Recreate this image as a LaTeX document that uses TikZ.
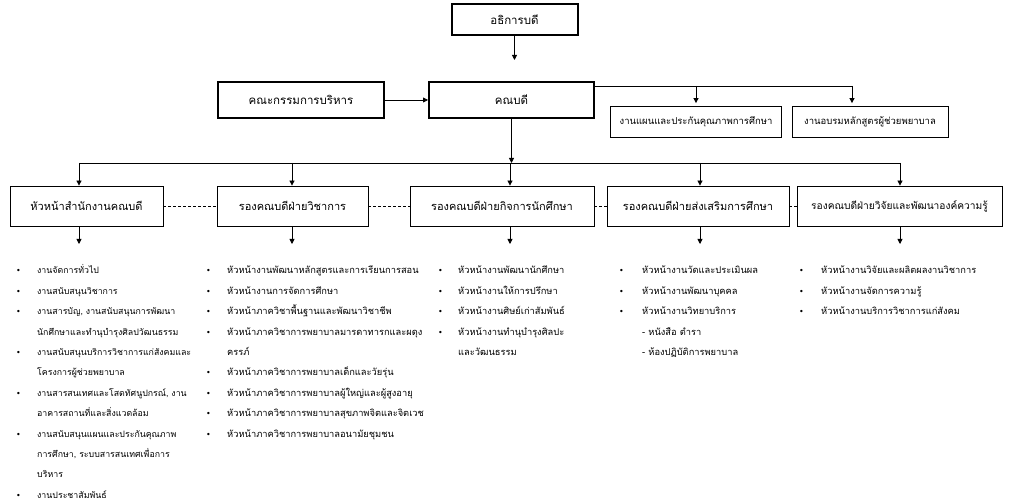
\documentclass[tikz,border=0pt]{standalone}
\usepackage{fontspec}
\setmainfont{Loma}[Script=Thai]
\newfontfamily\dotfont{DejaVu Sans}
\usetikzlibrary{arrows.meta}
\newcommand{\bl}{{\dotfont\footnotesize •}}
\newcommand{\listfont}{\fontsize{9.3}{20.4}\selectfont}

\begin{document}
\begin{tikzpicture}[x=1pt,y=-1pt,
	topbox/.style={draw,line width=2pt,font=\fontsize{11.5}{13}\selectfont},
	subbox/.style={draw,line width=0.8pt,minimum height=31pt,font=\fontsize{9.5}{11}\selectfont},
	rowbox/.style={draw,line width=0.8pt,minimum height=40pt,font=\fontsize{11}{13}\selectfont},
	arr/.style={-{Triangle[length=5pt,width=5pt]},line width=0.8pt},
	link/.style={densely dashed,line width=0.5pt},
	items/.style={inner sep=0pt,anchor=base west,font=\listfont}]
	\useasboundingbox (0,0) rectangle (1023,502);
	\node[topbox,minimum width=126pt,minimum height=31pt] (rector) at (514.5,19.5) {อธิการบดี};
	\node[topbox,minimum width=165pt,minimum height=36pt] (dean) at (511.5,100) {คณบดี};
	\node[topbox,minimum width=166pt,minimum height=36pt] (board) at (301,100) {คณะกรรมการบริหาร};
	\node[subbox,minimum width=171pt] (plan) at (696,122) {งานแผนและประกันคุณภาพการศึกษา};
	\node[subbox,minimum width=156pt] (train) at (870,122) {งานอบรมหลักสูตรผู้ช่วยพยาบาล};
	\node[rowbox,minimum width=153pt] (office) at (86.5,206) {หัวหน้าสำนักงานคณบดี};
	\node[rowbox,minimum width=151pt] (acad) at (292.5,206) {รองคณบดีฝ่ายวิชาการ};
	\node[rowbox,minimum width=184pt] (stud) at (502,206) {รองคณบดีฝ่ายกิจการนักศึกษา};
	\node[rowbox,minimum width=182pt] (promo) at (698,206) {รองคณบดีฝ่ายส่งเสริมการศึกษา};
	\node[rowbox,minimum width=205pt,font=\fontsize{10.2}{13}\selectfont] (res) at (899.5,206) {รองคณบดีฝ่ายวิจัยและพัฒนาองค์ความรู้};
	\coordinate (rtip) at (514.5,60);
	\coordinate (rbus) at (852,86);
	\coordinate (busL) at (79,163);
	\coordinate (busR) at (900,163);
	\coordinate (low) at (0,244);
	\draw[arr] (rector) -- (rtip);
	\draw[arr] (board) -- (dean);
	\draw (dean.east |- rbus) -- (rbus);
	\draw[arr,shorten >=3pt] (plan.north |- rbus) -- (plan);
	\draw[arr,shorten >=3pt] (rbus) -- (rbus |- train.north);
	\draw (busL) -- (busR);
	\draw[arr] (dean) -- (dean |- busL);
	\foreach \x/\b in {79/office,292/acad,510/stud,700/promo,900/res}{
		\draw[arr] (\x,0 |- busL) -- (\x,0 |- \b.north);
		\draw[arr] (\x,0 |- \b.south) -- (\x,0 |- low);
	}
	\draw[link] (office) -- (acad);
	\draw[link] (acad) -- (stud);
	\draw[link] (stud) -- (promo);
	\draw[link] (promo) -- (res);
	\node[items,font=\fontsize{8.8}{20.4}\selectfont] (list1) at (16,274) {\begin{tabular}[t]{@{}p{21pt}@{}l@{}}
		\bl & งานจัดการทั่วไป\\
		\bl & งานสนับสนุนวิชาการ\\
		\bl & งานสารบัญ, งานสนับสนุนการพัฒนา\\
		& นักศึกษาและทำนุบำรุงศิลปวัฒนธรรม\\
		\bl & งานสนับสนุนบริการวิชาการแก่สังคมและ\\
		& โครงการผู้ช่วยพยาบาล\\
		\bl & งานสารสนเทศและโสตทัศนูปกรณ์, งาน\\
		& อาคารสถานที่และสิ่งแวดล้อม\\
		\bl & งานสนับสนุนแผนและประกันคุณภาพ\\
		& การศึกษา, ระบบสารสนเทศเพื่อการ\\
		& บริหาร\\
		\bl & งานประชาสัมพันธ์
	\end{tabular}};
	\node[items] (list2) at (206,274) {\begin{tabular}[t]{@{}p{21pt}@{}l@{}}
		\bl & หัวหน้างานพัฒนาหลักสูตรและการเรียนการสอน\\
		\bl & หัวหน้างานการจัดการศึกษา\\
		\bl & หัวหน้าภาควิชาพื้นฐานและพัฒนาวิชาชีพ\\
		\bl & หัวหน้าภาควิชาการพยาบาลมารดาทารกและผดุง\\
		& ครรภ์\\
		\bl & หัวหน้าภาควิชาการพยาบาลเด็กและวัยรุ่น\\
		\bl & หัวหน้าภาควิชาการพยาบาลผู้ใหญ่และผู้สูงอายุ\\
		\bl & หัวหน้าภาควิชาการพยาบาลสุขภาพจิตและจิตเวช\\
		\bl & หัวหน้าภาควิชาการพยาบาลอนามัยชุมชน
	\end{tabular}};
	\node[items] (list3) at (438,274) {\begin{tabular}[t]{@{}p{20pt}@{}l@{}}
		\bl & หัวหน้างานพัฒนานักศึกษา\\
		\bl & หัวหน้างานให้การปรึกษา\\
		\bl & หัวหน้างานศิษย์เก่าสัมพันธ์\\
		\bl & หัวหน้างานทำนุบำรุงศิลปะ\\
		& และวัฒนธรรม
	\end{tabular}};
	\node[items] (list4) at (619,274) {\begin{tabular}[t]{@{}p{23pt}@{}l@{}}
		\bl & หัวหน้างานวัดและประเมินผล\\
		\bl & หัวหน้างานพัฒนาบุคคล\\
		\bl & หัวหน้างานวิทยาบริการ\\
		& - หนังสือ ตำรา\\
		& - ห้องปฏิบัติการพยาบาล
	\end{tabular}};
	\node[items] (list5) at (799,274) {\begin{tabular}[t]{@{}p{22pt}@{}l@{}}
		\bl & หัวหน้างานวิจัยและผลิตผลงานวิชาการ\\
		\bl & หัวหน้างานจัดการความรู้\\
		\bl & หัวหน้างานบริการวิชาการแก่สังคม
	\end{tabular}};
\end{tikzpicture}
\end{document}
